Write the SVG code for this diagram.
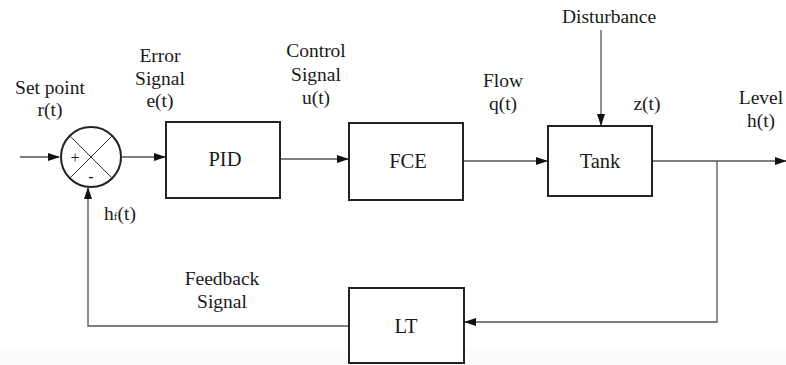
<svg xmlns="http://www.w3.org/2000/svg" width="786" height="365" viewBox="0 0 786 365">
<style>
text{fill:#1a1a1a;font-size:19.5px;text-anchor:middle}
.box{fill:#fff;stroke:#222;stroke-width:2}
.lbl{font-size:20.5px}
.ln{fill:none;stroke:#555;stroke-width:1.3}
</style>
<defs>
<marker id="ah" markerWidth="12" markerHeight="8" refX="11" refY="4" orient="auto" markerUnits="userSpaceOnUse">
<path d="M0,0 L12,4 L0,8 Z" fill="#111"/>
</marker>
</defs>
<rect x="0" y="0" width="786" height="365" fill="#fff"/>
<rect x="0" y="347" width="786" height="18" fill="#fcfcfc"/>
<g id="connectors">
<line class="ln" x1="20" y1="157" x2="59" y2="157" marker-end="url(#ah)"/>
<line class="ln" x1="122" y1="157" x2="165" y2="157" marker-end="url(#ah)"/>
<line class="ln" x1="280" y1="159" x2="348" y2="159" marker-end="url(#ah)"/>
<line class="ln" x1="463" y1="161" x2="547" y2="161" marker-end="url(#ah)"/>
<line class="ln" x1="601" y1="30" x2="601" y2="125" marker-end="url(#ah)"/>
<line class="ln" x1="652" y1="161" x2="786" y2="161" marker-end="url(#ah)"/>
<polyline class="ln" points="717,161 717,322 465,322" marker-end="url(#ah)"/>
<polyline class="ln" points="349,326 88,326 88,188" marker-end="url(#ah)"/>
</g>
<g font-family="'Liberation Serif', 'Times New Roman', serif">
<g id="sum">
<circle cx="91" cy="157" r="30" fill="#fff" stroke="#222" stroke-width="2"/>
<line x1="69.8" y1="135.8" x2="112.2" y2="178.2" stroke="#333" stroke-width="1"/>
<line x1="112.2" y1="135.8" x2="69.8" y2="178.2" stroke="#333" stroke-width="1"/>
<text x="75" y="163" style="font-size:16px">+</text>
<text x="91" y="182" style="font-size:16px">-</text>
</g>
<g id="pid"><rect class="box" x="166" y="122" width="114" height="76"/><text class="lbl" x="225" y="166">PID</text></g>
<g id="fce"><rect class="box" x="349" y="123" width="114" height="77"/><text class="lbl" x="408" y="168">FCE</text></g>
<g id="tank"><rect class="box" x="548" y="126" width="104" height="70"/><text class="lbl" x="600" y="168">Tank</text></g>
<g id="lt"><rect class="box" x="349" y="288" width="115" height="75"/><text class="lbl" x="406" y="333">LT</text></g>
<g id="labels">
<text x="50" y="94">Set point</text>
<text x="50" y="116">r(t)</text>
<text x="160" y="62">Error</text>
<text x="160" y="85">Signal</text>
<text x="160" y="107">e(t)</text>
<text x="316" y="57">Control</text>
<text x="316" y="81">Signal</text>
<text x="316" y="104">u(t)</text>
<text x="503" y="87">Flow</text>
<text x="503" y="110">q(t)</text>
<text x="609" y="23">Disturbance</text>
<text x="647" y="110">z(t)</text>
<text x="761" y="104">Level</text>
<text x="761" y="127">h(t)</text>
<text x="120" y="220">h<tspan style="font-size:11px">f</tspan>(t)</text>
<text x="222" y="285">Feedback</text>
<text x="222" y="308">Signal</text>
</g>
</g>
</svg>
